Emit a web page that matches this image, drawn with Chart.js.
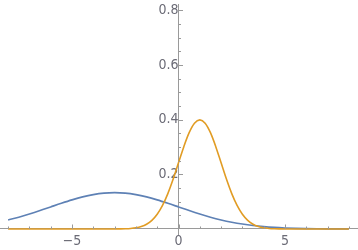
<!DOCTYPE html>
<html>
<head>
<meta charset="utf-8">
<script src="https://cdn.jsdelivr.net/npm/chart.js@4/dist/chart.umd.min.js"></script>
<style>
html,body{margin:0;padding:0;background:#fff;}
#c{display:block;}
</style>
</head>
<body>
<canvas id="c" width="358" height="250"></canvas>
<script>
// Blue curve (broad, peak near x = -3)
const blueX = [-8,-7.5,-7,-6.5,-6,-5.5,-5,-4.5,-4,-3.5,-3,-2.5,-2,-1.5,-1,-0.5,0,0.5,1,1.5,2,2.5,3,3.5,4,4.5,5,5.5,6,6.5,7,7.5,8];
const blueY = [0.0332,0.0432,0.0547,0.0673,0.0807,0.0940,0.1065,0.1174,0.1258,0.1312,0.1330,0.1312,0.1258,0.1174,0.1065,0.0940,0.0807,0.0673,0.0547,0.0432,0.0332,0.0248,0.0180,0.0127,0.0087,0.0058,0.0038,0.0024,0.0015,0.0009,0.0005,0.0003,0.0002];
// Orange curve (narrow, peak near x = 1)
const orangeX = [-8,-6,-4,-3,-2.75,-2.5,-2.25,-2,-1.75,-1.5,-1.25,-1,-0.75,-0.5,-0.25,0,0.25,0.5,0.75,1,1.25,1.5,1.75,2,2.25,2.5,2.75,3,3.25,3.5,3.75,4,4.25,4.5,4.75,5,6,8];
const orangeY = [0,0,0,0.0001,0.0004,0.0009,0.0020,0.0044,0.0091,0.0175,0.0317,0.0540,0.0863,0.1295,0.1826,0.2420,0.3011,0.3521,0.3867,0.3989,0.3867,0.3521,0.3011,0.2420,0.1826,0.1295,0.0863,0.0540,0.0317,0.0175,0.0091,0.0044,0.0020,0.0009,0.0004,0.0001,0,0];
// Tick labels
const xTickValues = [-5,0,5];
const yTickValues = [0.2,0.4,0.6,0.8];
const xMinorTicks = [-8,-7,-6,-4,-3,-2,-1,1,2,3,4,6,7,8];
const yMinorTicks = [0.05,0.1,0.15,0.25,0.3,0.35,0.45,0.5,0.55,0.65,0.7,0.75];

const AXIS = '#9a9a9a';
const LABEL = '#6b6b76';
const FONT = "'Liberation Sans Narrow','DejaVu Sans Condensed','Liberation Sans',sans-serif";

const tickPlugin = {
  id: 'mmaTicks',
  afterDraw(chart) {
    const ctx = chart.ctx;
    const xs = chart.scales.x, ys = chart.scales.y;
    const x0 = xs.getPixelForValue(0), y0 = ys.getPixelForValue(0);
    ctx.save();
    ctx.strokeStyle = AXIS;
    ctx.lineWidth = 1;
    ctx.beginPath();
    xTickValues.forEach(v => { const p = Math.round(xs.getPixelForValue(v)) + 0.5; ctx.moveTo(p, y0); ctx.lineTo(p, y0 - 4.5); });
    xMinorTicks.forEach(v => { const p = Math.round(xs.getPixelForValue(v)) + 0.5; ctx.moveTo(p, y0); ctx.lineTo(p, y0 - 2.5); });
    yTickValues.forEach(v => { const p = Math.round(ys.getPixelForValue(v)) + 0.5; ctx.moveTo(x0, p); ctx.lineTo(x0 + 4.5, p); });
    yMinorTicks.forEach(v => { const p = Math.round(ys.getPixelForValue(v)) + 0.5; ctx.moveTo(x0, p); ctx.lineTo(x0 + 2.5, p); });
    ctx.stroke();
    ctx.restore();
  }
};

const noPad = s => { s.paddingTop = 0; s.paddingBottom = 0; s.paddingLeft = 0; s.paddingRight = 0; };

new Chart(document.getElementById('c'), {
  type: 'scatter',
  data: {
    datasets: [
      {
        label: 'blue',
        data: blueX.map((x, i) => ({x: x, y: blueY[i]})),
        showLine: true,
        borderColor: '#5E81B5',
        borderWidth: 1.6,
        pointRadius: 0,
        cubicInterpolationMode: 'monotone',
        order: 2
      },
      {
        label: 'orange',
        data: orangeX.map((x, i) => ({x: x, y: orangeY[i]})),
        showLine: true,
        borderColor: '#E19C24',
        borderWidth: 1.6,
        pointRadius: 0,
        cubicInterpolationMode: 'monotone',
        order: 1
      }
    ]
  },
  options: {
    responsive: false,
    animation: false,
    devicePixelRatio: 1,
    layout: { padding: { left: 0, right: 1, top: 4, bottom: 16 } },
    plugins: { legend: { display: false }, tooltip: { enabled: false } },
    scales: {
      x: {
        type: 'linear',
        min: -8.38, max: 8.38,
        position: { y: 0 },
        afterBuildTicks: s => { s.ticks = xTickValues.map(v => ({value: v})); },
        afterFit: noPad,
        ticks: {
          padding: 4,
          color: LABEL,
          font: { family: FONT, size: 14 },
          callback: v => (v < 0 ? '\u2212' + Math.abs(v) : String(v)),
          maxRotation: 0, autoSkip: false
        },
        grid: { display: false, drawTicks: false },
        border: { display: true, color: AXIS, width: 1 }
      },
      y: {
        type: 'linear',
        min: -0.0183, max: 0.8227,
        position: { x: 0 },
        afterBuildTicks: s => { s.ticks = yTickValues.map(v => ({value: v})); },
        afterFit: noPad,
        ticks: {
          padding: 4,
          color: LABEL,
          font: { family: FONT, size: 14 },
          callback: v => v.toFixed(1),
          autoSkip: false
        },
        grid: { display: false, drawTicks: false },
        border: { display: true, color: AXIS, width: 1 }
      }
    }
  },
  plugins: [tickPlugin]
});
</script>
</body>
</html>
